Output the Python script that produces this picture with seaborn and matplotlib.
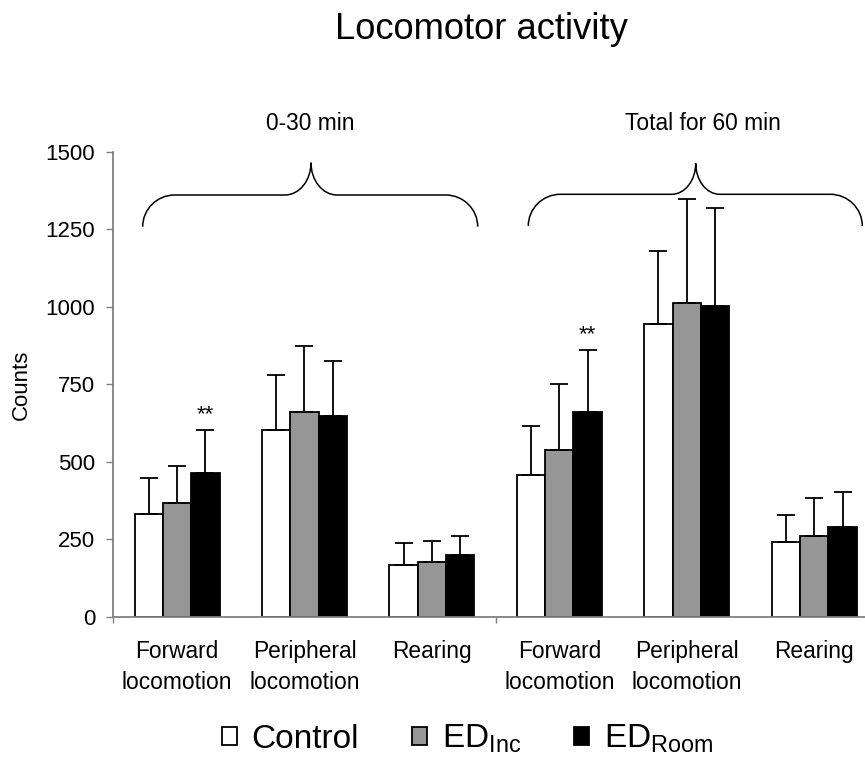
import numpy as np
import pandas as pd
import matplotlib
matplotlib.use("Agg")
import matplotlib.pyplot as plt
from matplotlib.path import Path
from matplotlib.patches import PathPatch
import seaborn as sns

# ---------------- data ----------------
periods = ["0-30 min", "Total for 60 min"]
measures = ["Forward\nlocomotion", "Peripheral\nlocomotion", "Rearing"]
groups = ["Control", "EDInc", "EDRoom"]
group_labels = ["Control", r"ED$_{\mathregular{Inc}}$", r"ED$_{\mathregular{Room}}$"]

control_mean = [332, 603, 168, 456, 946, 240]
control_sd = [115, 178, 70, 161, 233, 89]
inc_mean = [368, 660, 176, 539, 1014, 260]
inc_sd = [119, 213, 68, 213, 333, 123]
room_mean = [463, 648, 199, 662, 1002, 289]
room_sd = [140, 177, 62, 200, 316, 114]

# significance marks (group, category index)
sig_group = ["EDRoom", "EDRoom"]
sig_cat = [0, 3]
sig_text = ["**", "**"]

yticks = [0, 250, 500, 750, 1000, 1250, 1500]

# ---------------- table ----------------
cat_keys = [f"{p}|{m}" for p in periods for m in measures]
tick_labels = [m for p in periods for m in measures]
means = {"Control": control_mean, "EDInc": inc_mean, "EDRoom": room_mean}
sds = {"Control": control_sd, "EDInc": inc_sd, "EDRoom": room_sd}
rows = []
for g in groups:
    for k, mval, sval in zip(cat_keys, means[g], sds[g]):
        rows.append({"category": k, "group": g, "count": mval, "sd": sval})
df = pd.DataFrame(rows)

# ---------------- style ----------------
sns.set_theme(style="white")
plt.rcParams["font.family"] = ["Liberation Sans", "DejaVu Sans"]
plt.rcParams["mathtext.default"] = "regular"
for key in ["text.color", "axes.labelcolor", "xtick.labelcolor", "ytick.labelcolor"]:
    plt.rcParams[key] = "black"

W, H = 865, 763
fig = plt.figure(figsize=(W / 100, H / 100), dpi=100)
fig.patch.set_facecolor("white")

ax_left, ax_right, ax_top, ax_bottom = 113.3, 877.9, 152.0, 616.7
ax = fig.add_axes([ax_left / W, 1 - ax_bottom / H,
                   (ax_right - ax_left) / W, (ax_bottom - ax_top) / H])

palette = {"Control": "#ffffff", "EDInc": "#969696", "EDRoom": "#000000"}
sns.barplot(data=df, x="category", y="count", hue="group", order=cat_keys,
            hue_order=groups, palette=palette, saturation=1, width=0.667,
            edgecolor="black", linewidth=1.3, errorbar=None, legend=False, ax=ax)

# upward-only error bars
for g, cont in zip(groups, ax.containers):
    xs = [b.get_x() + b.get_width() / 2 for b in cont.patches]
    ys = [b.get_height() for b in cont.patches]
    sd = sds[g]
    ax.errorbar(xs, ys, yerr=[np.zeros(len(sd)), sd], fmt="none",
                ecolor="black", elinewidth=1.3, capsize=6.5, capthick=1.3,
                zorder=1)
    for sg, sc, st in zip(sig_group, sig_cat, sig_text):
        if sg == g:
            ax.annotate(st, (xs[sc], ys[sc] + sd[sc]), xytext=(0, 7),
                        textcoords="offset points", ha="center",
                        va="baseline", fontsize=16)

ax.set_ylim(0, 1500)
ax.set_xlim(-0.5, len(cat_keys) - 0.5)
ax.set_yticks(yticks)
ax.set_xticks([-0.5, 2.5, 5.5], labels=["", "", ""])
ax.set_xticks(range(len(cat_keys)), labels=tick_labels, minor=True)
ax.set_xlabel("")
ax.set_ylabel("Counts", fontsize=16)
ax.yaxis.label.set_va("center")
ax.yaxis.set_label_coords((21 - ax_left) / (ax_right - ax_left), 0.5)

for s in ["top", "right"]:
    ax.spines[s].set_visible(False)
for s in ["left", "bottom"]:
    ax.spines[s].set_color("#808080")
    ax.spines[s].set_linewidth(1.3)

ax.tick_params(axis="y", which="major", direction="out", length=5, width=1,
               color="#808080", labelcolor="black", labelsize=16, pad=8,
               left=True)
ax.tick_params(axis="x", which="major", direction="out", length=4.5, width=1,
               color="#808080", bottom=True)
ax.tick_params(axis="x", which="minor", length=0, labelsize=16.4, pad=17,
               labelcolor="black")
for t in ax.get_xticklabels(minor=True):
    t.set_linespacing(1.42)

# ---------------- braces & period labels ----------------
def px(x, y):
    return (x / W, 1 - y / H)

def brace(xl, xr, xt, yb, ym, yt, ro, ri):
    k = 0.5523
    pts = [
        (xl, yb),
        (xl, yb - k * (yb - ym)), (xl + ro - k * ro, ym), (xl + ro, ym),
        (xt - ri, ym),
        (xt - ri + k * ri, ym), (xt, yt + k * (ym - yt)), (xt, yt),
        (xt, yt + k * (ym - yt)), (xt + ri - k * ri, ym), (xt + ri, ym),
        (xr - ro, ym),
        (xr - ro + k * ro, ym), (xr, yb - k * (yb - ym)), (xr, yb),
    ]
    codes = ([Path.MOVETO] + [Path.CURVE4] * 3 + [Path.LINETO] +
             [Path.CURVE4] * 6 + [Path.LINETO] + [Path.CURVE4] * 3)
    path = Path([px(*p) for p in pts], codes)
    fig.add_artist(PathPatch(path, facecolor="none", edgecolor="black",
                             linewidth=1.1, transform=fig.transFigure))

brace(142.7, 477.7, 311.0, 226.7, 195.0, 162.7, 32, 26)
brace(528.3, 862.3, 695.7, 226.0, 194.3, 163.3, 32, 24)

fig.text(*px(310, 129.5), periods[0], ha="center", va="baseline", fontsize=16.4)
fig.text(*px(702.5, 129.5), periods[1], ha="center", va="baseline", fontsize=16.4)

fig.text(*px(481.5, 39), "Locomotor activity", ha="center", va="baseline",
         fontsize=26.2)

# ---------------- legend ----------------
fig.legend(ax.containers, group_labels, loc="center left",
           bbox_to_anchor=px(221.7, 739), ncol=3, frameon=False,
           fontsize=24, handlelength=0.45, handleheight=0.45,
           handletextpad=0.45, columnspacing=1.58, borderpad=0,
           borderaxespad=0)

fig.savefig("out.png", dpi=100)
